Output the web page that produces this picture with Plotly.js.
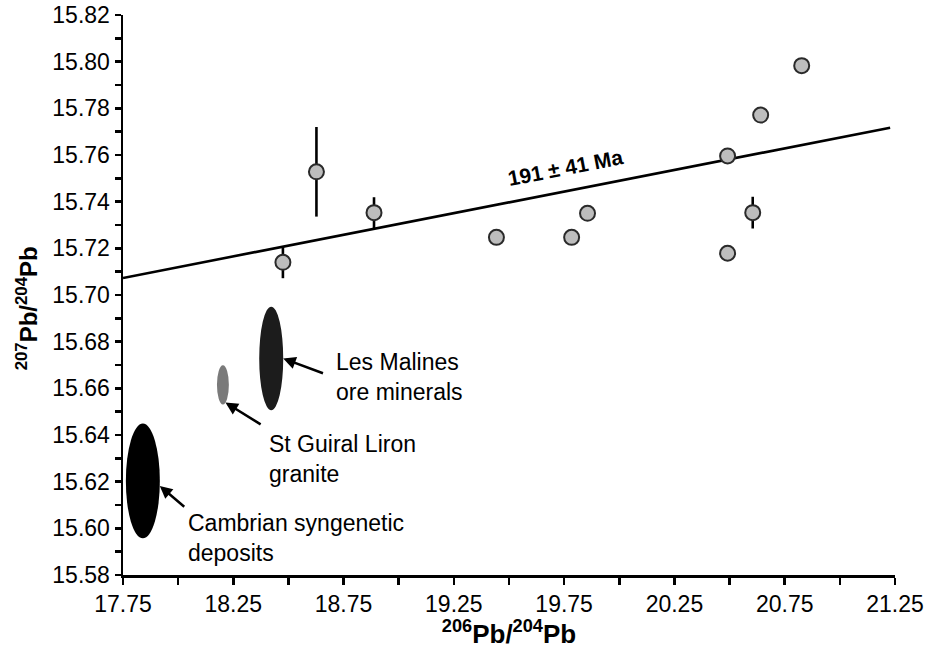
<!DOCTYPE html>
<html>
<head>
<meta charset="utf-8">
<script src="https://cdn.plot.ly/plotly-3.0.1.min.js"></script>
<style>html,body{margin:0;padding:0;background:#fff}#chart{width:932px;height:649px}</style>
</head>
<body>
<div id="chart"></div>
<script>
// Samples 206Pb/204Pb vs 207Pb/204Pb
const sampleX = [18.475, 18.627, 18.888, 19.443, 19.784, 19.856, 20.491, 20.491, 20.605, 20.641, 20.827];
const sampleY = [15.714, 15.7528, 15.7353, 15.7247, 15.7247, 15.735, 15.7596, 15.7179, 15.7353, 15.7771, 15.7983];
const sampleErr = [0.0068, 0.0192, 0.0066, 0, 0, 0, 0, 0, 0.0068, 0, 0];

// Isochron line (191 ± 41 Ma)
const isoX = [17.75, 21.228];
const isoY = [15.7073, 15.7717];
const isoLabel = "191 ± 41 Ma";

// Reference fields (ellipses): centre and half-sizes
const fieldNames = ["Les Malines<br>ore minerals", "St Guiral Liron<br>granite", "Cambrian syngenetic<br>deposits"];
const fieldCX = [18.422, 18.203, 17.840];
const fieldCY = [15.6728, 15.6615, 15.6203];
const fieldHW = [0.0544, 0.027, 0.077];
const fieldHH = [0.0222, 0.0084, 0.0246];
const fieldColors = ["#1c1c1c", "#7a7a7a", "#000000"];

const FONT = "Liberation Sans, Arial, sans-serif";

const traces = [
  {
    x: isoX, y: isoY, mode: "lines", type: "scatter",
    line: {color: "#000", width: 2.6}, hoverinfo: "skip", showlegend: false
  },
  {
    x: sampleX, y: sampleY, mode: "markers", type: "scatter",
    marker: {size: 15, color: "#bdbdbd", line: {color: "#2a2a2a", width: 2}},
    error_y: {type: "data", array: sampleErr, visible: true, color: "#000", thickness: 2.6, width: 0},
    showlegend: false
  }
];

const shapes = fieldCX.map((cx, i) => ({
  type: "circle", xref: "x", yref: "y", layer: "above",
  x0: cx - fieldHW[i], x1: cx + fieldHW[i],
  y0: fieldCY[i] - fieldHH[i], y1: fieldCY[i] + fieldHH[i],
  fillcolor: fieldColors[i], line: {width: 0}
}));

// label + arrow pointing at the ellipse edge (angle in degrees on the ellipse)
const arrowAng = [0, -65, -5];
const labelStyle = [
  {ax: 51, ay: 19, yanchor: "middle", startstandoff: 12},
  {ax: 42, ay: 26, yanchor: "top", startstandoff: 8},
  {ax: 26, ay: 22, yanchor: "top", startstandoff: 2}
];

const annotations = [];
fieldCX.forEach((cx, i) => {
  const a = arrowAng[i] * Math.PI / 180;
  const s = labelStyle[i];
  annotations.push({
    x: cx + fieldHW[i] * Math.cos(a), y: fieldCY[i] + fieldHH[i] * Math.sin(a),
    xref: "x", yref: "y", text: fieldNames[i], showarrow: true,
    ax: s.ax, ay: s.ay, xanchor: "left", yanchor: s.yanchor, align: "left",
    startstandoff: s.startstandoff,
    arrowhead: 2, arrowsize: 1, arrowwidth: 2.5, arrowcolor: "#000",
    font: {family: FONT, size: 23, color: "#000"}
  });
});
annotations.push({
  x: 19.758, y: 15.7545, xref: "x", yref: "y", text: "<b>" + isoLabel + "</b>",
  showarrow: false, textangle: -11, font: {family: FONT, size: 21, color: "#000"}
});

const layout = {
  width: 932, height: 649,
  margin: {l: 123, r: 37, t: 15, b: 74},
  paper_bgcolor: "#fff", plot_bgcolor: "#fff",
  font: {family: FONT, size: 23, color: "#000"},
  showlegend: false,
  xaxis: {
    range: [17.75, 21.25], tick0: 17.75, dtick: 0.5, tickformat: ".2f",
    showgrid: false, zeroline: false, showline: true, linecolor: "#000", linewidth: 2.5,
    ticks: "outside", ticklen: 7, tickwidth: 2.5, tickcolor: "#000",
    minor: {dtick: 0.25, ticks: "outside", ticklen: 7, tickwidth: 2.5, tickcolor: "#000", showgrid: false},
    tickfont: {family: FONT, size: 23},
    title: {text: "<b><sup>206</sup>Pb/<sup>204</sup>Pb</b>", font: {family: FONT, size: 26}, standoff: 6}
  },
  yaxis: {
    range: [15.58, 15.82], tick0: 15.58, dtick: 0.02, tickformat: ".2f",
    showgrid: false, zeroline: false, showline: true, linecolor: "#000", linewidth: 2.5,
    ticks: "outside", ticklen: 6, tickwidth: 2.5, tickcolor: "#000",
    minor: {dtick: 0.01, ticks: "outside", ticklen: 6, tickwidth: 2.5, tickcolor: "#000", showgrid: false},
    tickfont: {family: FONT, size: 23},
    title: {text: "<b><sup>207</sup>Pb/<sup>204</sup>Pb&nbsp;&nbsp;&nbsp;&nbsp;</b>", font: {family: FONT, size: 24}, standoff: 8}
  },
  shapes: shapes,
  annotations: annotations
};

Plotly.newPlot("chart", traces, layout, {displayModeBar: false, staticPlot: true});
</script>
</body>
</html>
